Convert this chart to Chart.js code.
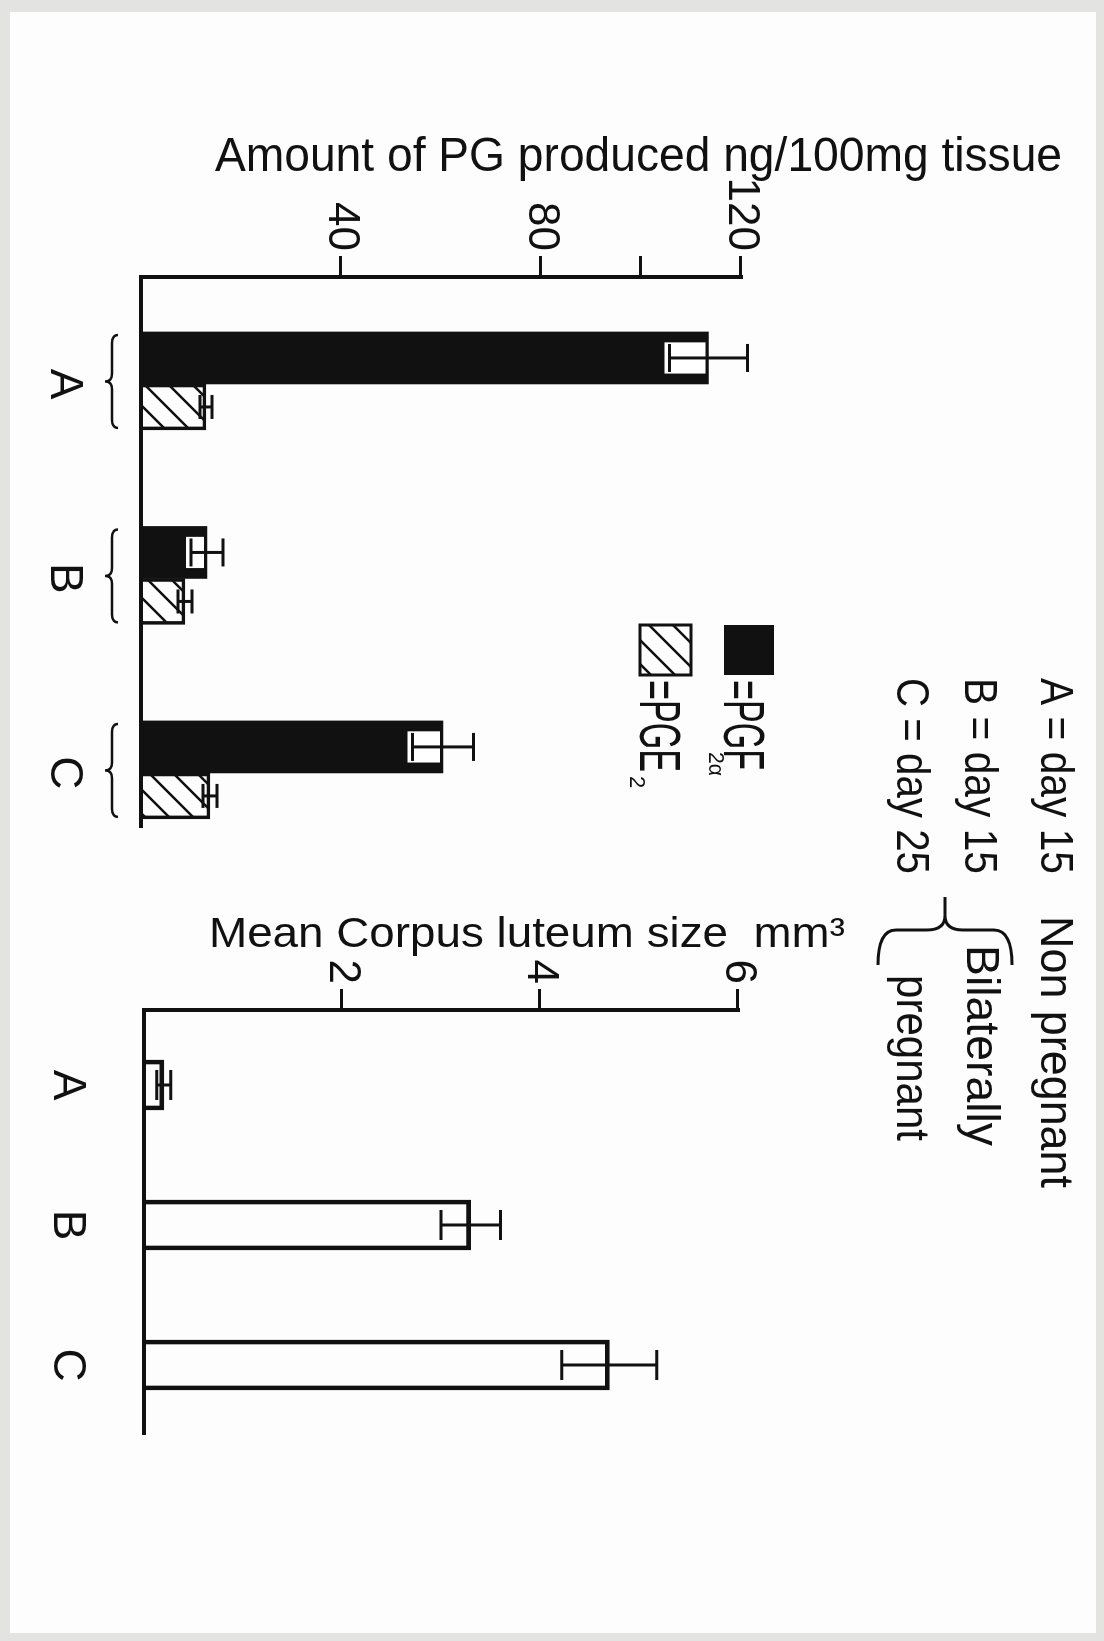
<!DOCTYPE html>
<html>
<head>
<meta charset="utf-8">
<title>PG production and corpus luteum size</title>
<script src="https://cdn.jsdelivr.net/npm/chart.js@4.4.1/dist/chart.umd.min.js"></script>
<style>
  html, body { margin: 0; padding: 0; }
  body { width: 1104px; height: 1641px; background: #e3e3e1; position: relative; overflow: hidden; }
  #paper { position: absolute; left: 10px; top: 12px; width: 1086px; height: 1621px; background: #fdfdfd; }
  /* the figure is drawn upright and turned a quarter clockwise, like the scanned page */
  #sheet { position: absolute; left: 0; top: 0; width: 1641px; height: 1104px;
           transform-origin: 0 0; transform: translate(1104px, 0) rotate(90deg); }
  #sheet canvas { position: absolute; left: 0; top: 0; }
</style>
</head>
<body>
<div id="paper"></div>
<div id="sheet">
  <canvas id="pgChart" width="1641" height="1104"></canvas>
  <canvas id="clChart" width="1641" height="1104"></canvas>
</div>
<script>
// groups: A = day 15 non pregnant, B = day 15 bilaterally pregnant, C = day 25 bilaterally pregnant
const groups = ['A', 'B', 'C'];
const groupPos = [1, 2, 3];

// PG produced, ng/100mg tissue (mean and error)
const pgf2a = [113.5, 13.2, 60.4];
const pgf2aErr = [7.8, 3.2, 6.1];
const pge2 = [13.0, 8.8, 13.8];
const pge2Err = [1.2, 1.4, 1.4];
const pgTicks = [40, 80, 100, 120];
const pgTickLabels = ['40', '80', '', '120'];

// mean corpus luteum size, mm3
const clSize = [0.2, 3.3, 4.7];
const clErr = [0.07, 0.3, 0.48];
const clTicks = [2, 4, 6];
const clTickLabels = ['2', '4', '6'];

const ink = '#111';
const FAMILY = '"Liberation Sans", Arial, sans-serif';

Chart.defaults.font.family = FAMILY;
Chart.defaults.color = ink;

function hatch(ctx) {
    const c = document.createElement('canvas');
    c.width = c.height = 24;
    const g = c.getContext('2d');
    g.strokeStyle = ink;
    g.lineWidth = 2.5;
    g.beginPath();
    g.moveTo(-6, 30); g.lineTo(30, -6);
    g.moveTo(-6, 6); g.lineTo(6, -6);
    g.moveTo(18, 30); g.lineTo(30, 18);
    g.stroke();
    return ctx.createPattern(c, 'repeat');
}

function text(ctx, str, x, y, size, width, turned) {
    ctx.save();
    ctx.font = size + 'px ' + FAMILY;
    ctx.fillStyle = ink;
    ctx.textBaseline = 'alphabetic';
    ctx.textAlign = 'left';
    ctx.translate(x, y);
    if (turned) ctx.rotate(-Math.PI / 2);
    if (width) ctx.scale(width / ctx.measureText(str).width, 1);
    ctx.fillText(str, 0, 0);
    ctx.restore();
}

function errorBar(ctx, x, lo, hi, cap) {
    ctx.beginPath();
    ctx.moveTo(x, lo); ctx.lineTo(x, hi);
    ctx.moveTo(x - cap, lo); ctx.lineTo(x + cap, lo);
    ctx.moveTo(x - cap, hi); ctx.lineTo(x + cap, hi);
    ctx.stroke();
}

// curly brace along x from x1 to x2, arms at yArm, tip pointing towards yTip
function brace(ctx, x1, x2, yArm, yMid, yTip, r) {
    const xc = (x1 + x2) / 2;
    const s = Math.sign(yTip - yMid);
    const k = Math.min(Math.abs(yTip - yMid), r * 0.8) * s;
    ctx.beginPath();
    ctx.moveTo(x1, yArm);
    ctx.quadraticCurveTo(x1, yMid, x1 + r, yMid);
    ctx.lineTo(xc - r, yMid);
    ctx.quadraticCurveTo(xc, yMid, xc, yMid + k);
    ctx.lineTo(xc, yTip);
    ctx.moveTo(xc, yMid + k);
    ctx.quadraticCurveTo(xc, yMid, xc + r, yMid);
    ctx.lineTo(x2 - r, yMid);
    ctx.quadraticCurveTo(x2, yMid, x2, yArm);
    ctx.stroke();
}

function axes(xMin, xMax, yMax, ticks, tickLabels) {
    return {
        x: {
            type: 'linear', min: xMin, max: xMax, offset: false,
            afterBuildTicks: a => { a.ticks = groupPos.map(v => ({ value: v })); },
            afterFit: s => { s.height = 100; },
            ticks: { callback: (v, i) => groups[i], padding: 50, autoSkip: false, maxRotation: 0,
                     font: { size: 46 }, color: ink },
            grid: { display: false, drawTicks: false, offset: false },
            border: { display: true, color: ink, width: 4, z: 1 }
        },
        y: {
            min: 0, max: yMax,
            afterBuildTicks: a => { a.ticks = ticks.map(v => ({ value: v })); },
            afterFit: s => { s.width = 100; },
            ticks: { callback: (v, i) => tickLabels[i], padding: 5, font: { size: 44 }, color: ink },
            grid: { drawOnChartArea: false, drawTicks: true, tickLength: 21, tickWidth: 3, color: ink },
            border: { display: true, color: ink, width: 4, z: 1 }
        }
    };
}

const pgCanvas = document.getElementById('pgChart');
const hatchFill = hatch(pgCanvas.getContext('2d'));

const pgExtras = {
    id: 'pgExtras',
    afterDatasetsDraw(chart) {
        const ctx = chart.ctx;
        const y = chart.scales.y;
        const area = chart.chartArea;
        ctx.save();
        ctx.strokeStyle = ink;
        ctx.lineWidth = 3;
        const errs = [pgf2aErr, pge2Err];
        chart.data.datasets.forEach((ds, di) => {
            chart.getDatasetMeta(di).data.forEach((bar, i) => {
                const v = ds.data[i], e = errs[di][i];
                const top = y.getPixelForValue(v);
                const lo = y.getPixelForValue(v - e);
                const hi = y.getPixelForValue(v + e);
                if (di === 0) {
                    // white window cut into the solid bar for the lower whisker
                    const hw = bar.width * 0.3;
                    ctx.fillStyle = '#fff';
                    ctx.fillRect(bar.x - hw, top + 3, hw * 2, lo + 5 - top - 3);
                    errorBar(ctx, bar.x, lo, hi, 14);
                } else {
                    errorBar(ctx, bar.x, lo, hi, 12);
                }
            });
        });

        // braces under each group
        ctx.lineWidth = 2.5;
        const solid = chart.getDatasetMeta(0).data;
        const striped = chart.getDatasetMeta(1).data;
        solid.forEach((bar, i) => {
            const x1 = bar.x - bar.width / 2 + 3;
            const x2 = striped[i].x + striped[i].width / 2 - 2;
            brace(ctx, x1, x2, area.bottom + 23, area.bottom + 29, area.bottom + 36, 8);
        });

        // legend keys
        ctx.fillStyle = ink;
        ctx.fillRect(625, 330, 50, 50);
        ctx.fillStyle = hatchFill;
        ctx.fillRect(625, 413, 50, 51);
        ctx.lineWidth = 3;
        ctx.strokeRect(625, 413, 50, 51);
        text(ctx, '=PGF', 680, 380, 58, 90);
        text(ctx, '2α', 752, 395, 22, 24);
        text(ctx, '=PGE', 680, 464, 58, 92);
        text(ctx, '2', 776, 474, 22);

        // group key
        text(ctx, 'A = day 15', 678, 63, 46, 196);
        text(ctx, 'Non pregnant', 916, 63, 46, 272);
        text(ctx, 'B = day 15', 678, 139, 46, 196);
        text(ctx, 'Bilaterally', 945, 137, 46, 201);
        text(ctx, 'C = day 25', 678, 207, 46, 196);
        text(ctx, 'pregnant', 975, 207, 46, 166);
        ctx.save();
        ctx.lineWidth = 3;
        ctx.translate(965, 0);
        ctx.transform(0, 1, -1, 0, 0, 0);
        brace(ctx, 92, 226, 0, 35, 68, 18);
        ctx.restore();

        // axis title
        text(ctx, 'Amount of PG produced ng/100mg tissue', 171, 889, 48, 847, true);
        ctx.restore();
    }
};

new Chart(pgCanvas, {
    type: 'bar',
    data: {
        labels: groupPos,
        datasets: [
            { label: 'PGF2α', data: pgf2a, backgroundColor: ink, borderWidth: 0, barThickness: 52 },
            { label: 'PGE2', data: pge2, backgroundColor: hatchFill, borderColor: ink,
              borderWidth: 3, barThickness: 46 }
        ]
    },
    options: {
        responsive: false,
        animation: false,
        devicePixelRatio: 1,
        layout: { padding: { left: 177, right: 814, top: 363, bottom: 41 } },
        plugins: { legend: { display: false }, tooltip: { enabled: false } },
        scales: axes(0.45, 3.278, 120, pgTicks, pgTickLabels)
    },
    plugins: [pgExtras]
});

const clExtras = {
    id: 'clExtras',
    afterDatasetsDraw(chart) {
        const ctx = chart.ctx;
        const y = chart.scales.y;
        ctx.save();
        ctx.strokeStyle = ink;
        ctx.lineWidth = 3;
        chart.getDatasetMeta(0).data.forEach((bar, i) => {
            errorBar(ctx, bar.x, y.getPixelForValue(clSize[i] - clErr[i]),
                     y.getPixelForValue(clSize[i] + clErr[i]), 15);
        });
        text(ctx, 'Mean Corpus luteum size  mm³', 947, 895, 42, 636, true);
        ctx.restore();
    }
};

new Chart(document.getElementById('clChart'), {
    type: 'bar',
    data: {
        labels: groupPos,
        datasets: [
            { label: 'Corpus luteum', data: clSize, backgroundColor: 'rgba(0,0,0,0)',
              borderColor: ink, borderWidth: 4, barThickness: 50 }
        ]
    },
    options: {
        responsive: false,
        animation: false,
        devicePixelRatio: 1,
        layout: { padding: { left: 910, right: 207, top: 366, bottom: 44 } },
        plugins: { legend: { display: false }, tooltip: { enabled: false } },
        scales: axes(0.4643, 3.4929, 6, clTicks, clTickLabels)
    },
    plugins: [clExtras]
});
</script>
</body>
</html>
